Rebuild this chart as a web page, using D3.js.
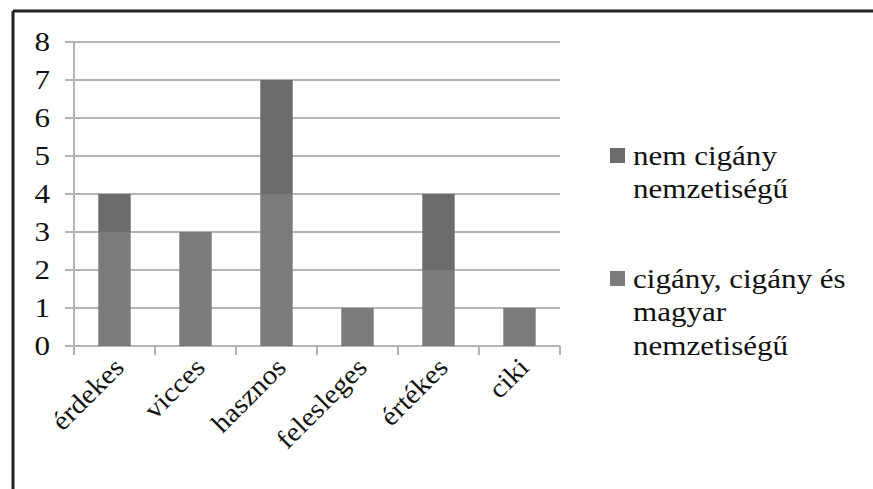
<!DOCTYPE html>
<html>
<head>
<meta charset="utf-8">
<script src="https://cdn.jsdelivr.net/npm/d3@7"></script>
<style>
  body { margin: 0; background: #fff; }
</style>
</head>
<body>
<div id="chart"></div>
<script>
// data
const categories = ["érdekes", "vicces", "hasznos", "felesleges", "értékes", "ciki"];
const ciganyVals = [3, 3, 4, 1, 2, 1];      // cigány, cigány és magyar nemzetiségű (bottom)
const nemCiganyVals = [1, 0, 3, 0, 2, 0];   // nem cigány nemzetiségű (top)
const yTicks = [0, 1, 2, 3, 4, 5, 6, 7, 8];
const seriesNames = ["nem cigány nemzetiségű", "cigány, cigány és magyar nemzetiségű"];
const legendLines = [["nem cigány", "nemzetiségű"], ["cigány, cigány és", "magyar", "nemzetiségű"]];

const width = 873, height = 489;
const plotLeft = 74, plotRight = 560, plotTop = 42, plotBottom = 346;
const serif = "'Liberation Serif', 'DejaVu Serif', serif";
const fs = 27, stretch = 1.15;   // the source picture is a bit wider than tall

const svg = d3.select("#chart").append("svg")
  .attr("width", width).attr("height", height);

// frame (left + top only visible)
svg.append("line").attr("x1", 13).attr("y1", 11).attr("x2", width).attr("y2", 11)
  .attr("stroke", "#222").attr("stroke-width", 3);
svg.append("line").attr("x1", 13).attr("y1", 11).attr("x2", 13).attr("y2", height)
  .attr("stroke", "#222").attr("stroke-width", 3);

const x = d3.scaleBand().domain(categories).range([plotLeft, plotRight]).paddingInner(0).paddingOuter(0);
const y = d3.scaleLinear().domain([0, 8]).range([plotBottom, plotTop]);

// gridlines
svg.append("g").selectAll("line").data(yTicks).enter().append("line")
  .attr("x1", plotLeft - 9).attr("x2", plotRight)
  .attr("y1", d => y(d)).attr("y2", d => y(d))
  .attr("stroke", "#b4b4b4").attr("stroke-width", 2);

// y axis line
svg.append("line").attr("x1", plotLeft).attr("x2", plotLeft).attr("y1", plotTop).attr("y2", plotBottom)
  .attr("stroke", "#b4b4b4").attr("stroke-width", 2);

// y labels
svg.append("g").selectAll("text").data(yTicks).enter().append("text")
  .attr("transform", d => `translate(50,${y(d)}) scale(${stretch},1)`)
  .attr("dy", "0.33em")
  .attr("text-anchor", "end")
  .attr("font-family", serif).attr("font-size", fs).attr("fill", "#111")
  .text(d => d);

// x ticks
const xTickPos = categories.map(c => x(c)).concat([plotRight]);
svg.append("g").selectAll("line").data(xTickPos).enter().append("line")
  .attr("x1", d => d).attr("x2", d => d).attr("y1", plotBottom).attr("y2", plotBottom + 9)
  .attr("stroke", "#b4b4b4").attr("stroke-width", 2);

// stacked bars
const bw = x.bandwidth() * 0.4;
const rows = categories.map((c, i) => ({ cat: c, a: ciganyVals[i], b: nemCiganyVals[i] }));
const g = svg.append("g");
g.selectAll("rect.low").data(rows).enter().append("rect")
  .attr("x", d => x(d.cat) + (x.bandwidth() - bw) / 2)
  .attr("width", bw)
  .attr("y", d => y(d.a)).attr("height", d => y(0) - y(d.a))
  .attr("fill", "#7b7b7b");
g.selectAll("rect.high").data(rows.filter(d => d.b > 0)).enter().append("rect")
  .attr("x", d => x(d.cat) + (x.bandwidth() - bw) / 2)
  .attr("width", bw)
  .attr("y", d => y(d.a + d.b)).attr("height", d => y(d.a) - y(d.a + d.b))
  .attr("fill", "#6c6c6c");

// x labels rotated
svg.append("g").selectAll("text").data(categories).enter().append("text")
  .attr("transform", d => `translate(${x(d) + x.bandwidth() / 2 + 11},${plotBottom + 23}) rotate(-45) scale(1.08,1)`)
  .attr("text-anchor", "end")
  .attr("font-family", serif).attr("font-size", fs).attr("fill", "#111")
  .text(d => d);

// legend
const legendColors = ["#6c6c6c", "#7b7b7b"];
const legendBase = [165, 288];
const leg = svg.append("g");
seriesNames.forEach((s, i) => {
  leg.append("rect").attr("x", 610).attr("y", legendBase[i] - 17).attr("width", 15).attr("height", 15)
    .attr("fill", legendColors[i]);
  const t = leg.append("text")
    .attr("transform", `translate(633,${legendBase[i]}) scale(${stretch},1)`)
    .attr("font-family", serif).attr("font-size", fs).attr("fill", "#111");
  legendLines[i].forEach((ln, j) => {
    t.append("tspan").attr("x", 0).attr("y", j * 33.5).text(ln);
  });
});
</script>
</body>
</html>
